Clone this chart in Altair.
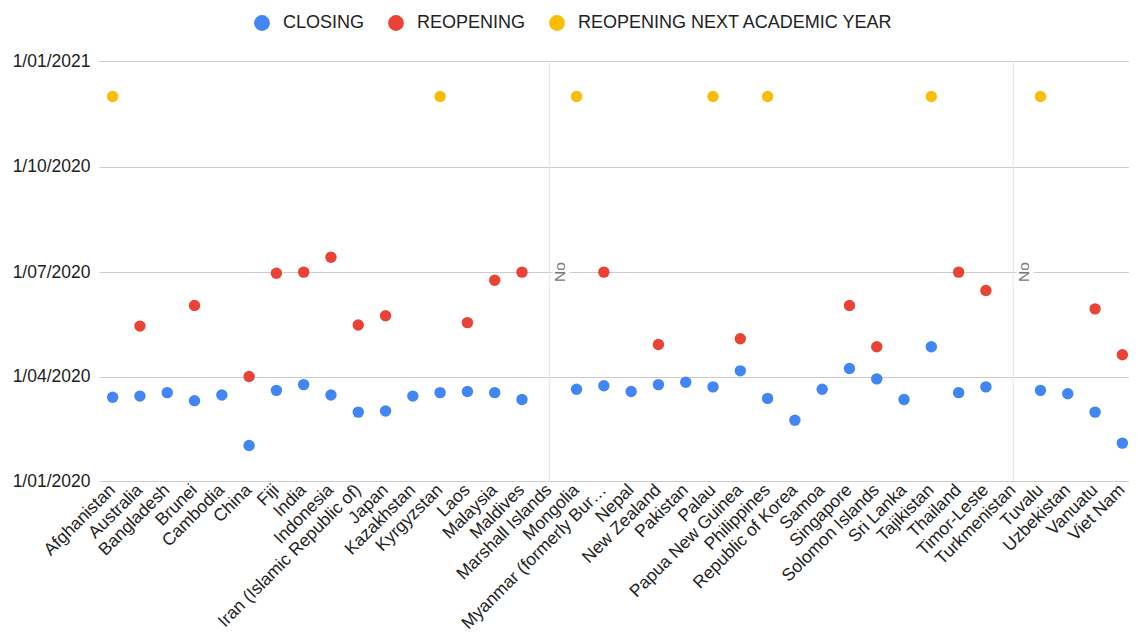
import altair as alt
import pandas as pd

countries = [
    "Afghanistan", "Australia", "Bangladesh", "Brunei", "Cambodia", "China", "Fiji",
    "India", "Indonesia", "Iran (Islamic Republic of)", "Japan", "Kazakhstan",
    "Kyrgyzstan", "Laos", "Malaysia", "Maldives", "Marshall Islands", "Mongolia",
    "Myanmar (formerly Bur…", "Nepal", "New Zealand", "Pakistan", "Palau",
    "Papua New Guinea", "Philippines", "Republic of Korea", "Samoa", "Singapore",
    "Solomon Islands", "Sri Lanka", "Tajikistan", "Thailand", "Timor-Leste",
    "Turkmenistan", "Tuvalu", "Uzbekistan", "Vanuatu", "Viet Nam",
]

closing = [
    "2020-03-14", "2020-03-15", "2020-03-18", "2020-03-11", "2020-03-16", "2020-02-01",
    "2020-03-20", "2020-03-25", "2020-03-16", "2020-03-01", "2020-03-02", "2020-03-15",
    "2020-03-18", "2020-03-19", "2020-03-18", "2020-03-12", None, "2020-03-21",
    "2020-03-24", "2020-03-19", "2020-03-25", "2020-03-27", "2020-03-23",
    "2020-04-06", "2020-03-13", "2020-02-23", "2020-03-21", "2020-04-08",
    "2020-03-30", "2020-03-12", "2020-04-27", "2020-03-18", "2020-03-23",
    None, "2020-03-20", "2020-03-17", "2020-03-01", "2020-02-03",
]

reopening = [
    None, "2020-05-15", None, "2020-06-02", None, "2020-04-01",
    "2020-06-30", "2020-07-01", "2020-07-14", "2020-05-16", "2020-05-24", None,
    None, "2020-05-18", "2020-06-24", "2020-07-01", None, None,
    "2020-07-01", None, "2020-04-29", None, None,
    "2020-05-04", None, None, None, "2020-06-02",
    "2020-04-27", None, None, "2020-07-01", "2020-06-15",
    None, None, None, "2020-05-30", "2020-04-20",
]

next_year = [
    "2020-12-01", None, None, None, None, None, None,
    None, None, None, None, None,
    "2020-12-01", None, None, None, None, "2020-12-01",
    None, None, None, None, "2020-12-01",
    None, "2020-12-01", None, None, None,
    None, None, "2020-12-01", None, None,
    None, "2020-12-01", None, None, None,
]

no_data_countries = ["Marshall Islands", "Turkmenistan"]
no_data_text = ["No", "No"]
no_data_date = ["2020-07-01", "2020-07-01"]

series_names = ["CLOSING", "REOPENING", "REOPENING NEXT ACADEMIC YEAR"]
series_colors = ["#4285F4", "#EA4335", "#FBBC04"]
y_ticks = [(2020, 1), (2020, 4), (2020, 7), (2020, 10), (2021, 1)]

rows = []
for name, values in zip(series_names, [closing, reopening, next_year]):
    for c, d in zip(countries, values):
        if d is not None:
            rows.append({"country": c, "date": d, "series": name})
df = pd.DataFrame(rows)

df_no = pd.DataFrame({"country": no_data_countries, "label": no_data_text, "date": no_data_date})

FONT = "Liberation Sans"
W, H = 1030, 420
X_SPAN = 1037

x_scale = alt.Scale(type="band", domain=countries, range=[0, X_SPAN],
                    paddingInner=0, paddingOuter=0, round=False)

x_enc = alt.X(
    "country:N",
    sort=countries,
    scale=x_scale,
    axis=alt.Axis(
        title=None, labelAngle=-45, labelAlign="right", labelBaseline="middle",
        labelFontSize=17.5, labelFont=FONT, labelColor="#222222", labelPadding=6,
        ticks=False, domain=False, grid=False, labelLimit=400, labelOverlap=False,
    ),
)

y_scale = alt.Scale(
    type="utc",
    domain=[alt.DateTime(year=2020, month=1, date=1, utc=True),
            alt.DateTime(year=2021, month=1, date=1, utc=True)],
)

y_enc = alt.Y(
    "date:T",
    scale=y_scale,
    axis=alt.Axis(
        title=None,
        values=[alt.DateTime(year=y, month=m, date=1, utc=True) for y, m in y_ticks],
        format="%-d/%m/%Y",
        labelFontSize=17.5, labelFont=FONT, labelColor="#222222", labelPadding=9,
        ticks=False, domain=False, grid=True, gridColor="#cccccc", gridWidth=1,
    ),
)

x_plain = alt.X("country:N", sort=countries, bandPosition=0.5)

vlines = alt.Chart(df_no).mark_rule(color="#e4e4e4", strokeWidth=1).encode(
    x=x_plain,
    y=alt.value(0),
    y2=alt.value(H),
)

points = alt.Chart(df).mark_circle(size=130, opacity=1).encode(
    x=x_enc,
    y=y_enc,
    color=alt.Color(
        "series:N",
        scale=alt.Scale(domain=series_names, range=series_colors),
        legend=alt.Legend(
            title=None, orient="none", direction="horizontal", columns=3,
            legendX=154, legendY=-47, symbolType="circle", symbolSize=250,
            symbolStrokeWidth=0, labelFontSize=18, labelFont=FONT,
            labelColor="#222222", labelOffset=12, columnPadding=22, labelLimit=500,
        ),
    ),
)

no_halo = alt.Chart(df_no).mark_text(
    angle=270, dy=11, fontSize=15.5, font=FONT, color="white", stroke="white",
    strokeWidth=5, align="center", baseline="middle",
).encode(x=x_plain, y=y_enc, text="label:N")

no_text = alt.Chart(df_no).mark_text(
    angle=270, dy=11, fontSize=15.5, font=FONT, color="#777777",
    align="center", baseline="middle",
).encode(x=x_plain, y=y_enc, text="label:N")

chart = alt.layer(points, vlines, no_halo, no_text).properties(
    width=W,
    height=H,
    autosize=alt.AutoSizeParams(type="none"),
    padding={"left": 91, "top": 53, "right": 0, "bottom": 154},
    background="white",
).configure_view(stroke=None)

chart.save("out.html", embed_options={"renderer": "svg", "actions": False})
